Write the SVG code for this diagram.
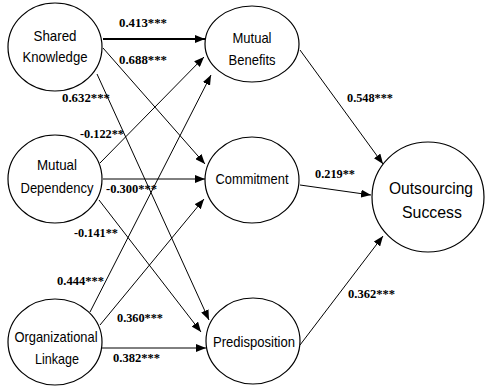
<svg xmlns="http://www.w3.org/2000/svg" width="485" height="387" viewBox="0 0 485 387">
<style>
.n{fill:#fff;stroke:#000;stroke-width:1.2}
.t{font-family:"Liberation Sans",Arial,sans-serif;font-size:15px;text-anchor:middle;fill:#000}
.big{font-size:17px}
.c{stroke:#000;stroke-width:1;fill:none;marker-end:url(#a)}
.l{font-family:"Liberation Serif","Times New Roman",serif;font-size:12.5px;font-weight:bold;fill:#000}
</style>
<defs>
<marker id="a" viewBox="0 0 10 8" refX="10" refY="4" markerWidth="10" markerHeight="8" markerUnits="userSpaceOnUse" orient="auto">
<path d="M0,0 L10,4 L0,8 Z" fill="#000"/>
</marker>
</defs>
<g id="connectors">
<line class="c" x1="103" y1="39" x2="205" y2="39" style="stroke-width:2"/>
<line class="c" x1="103" y1="48" x2="205" y2="164"/>
<line class="c" x1="97" y1="74" x2="209" y2="320"/>
<line class="c" x1="100" y1="163" x2="204" y2="57"/>
<line class="c" x1="103" y1="179" x2="205" y2="179"/>
<line class="c" x1="99" y1="200" x2="201" y2="332"/>
<line class="c" x1="90" y1="312" x2="211" y2="75"/>
<line class="c" x1="100" y1="325" x2="204" y2="199"/>
<line class="c" x1="102" y1="348" x2="206" y2="348"/>
<line class="c" x1="300" y1="50" x2="383" y2="164"/>
<line class="c" x1="300" y1="185" x2="371" y2="195"/>
<line class="c" x1="300" y1="345" x2="383" y2="236"/>
</g>
<g id="labels">
<text class="l" x="119" y="27" textLength="48" lengthAdjust="spacingAndGlyphs">0.413***</text>
<text class="l" x="119" y="64" textLength="48" lengthAdjust="spacingAndGlyphs">0.688***</text>
<text class="l" x="62" y="102" textLength="48" lengthAdjust="spacingAndGlyphs">0.632***</text>
<text class="l" x="80" y="138" textLength="44" lengthAdjust="spacingAndGlyphs">-0.122**</text>
<text class="l" x="106" y="193" textLength="51" lengthAdjust="spacingAndGlyphs">-0.300***</text>
<text class="l" x="74" y="237" textLength="44" lengthAdjust="spacingAndGlyphs">-0.141**</text>
<text class="l" x="57" y="285" textLength="47" lengthAdjust="spacingAndGlyphs">0.444***</text>
<text class="l" x="117" y="322" textLength="46" lengthAdjust="spacingAndGlyphs">0.360***</text>
<text class="l" x="113" y="362" textLength="47" lengthAdjust="spacingAndGlyphs">0.382***</text>
<text class="l" x="347" y="102" textLength="46" lengthAdjust="spacingAndGlyphs">0.548***</text>
<text class="l" x="315" y="178" textLength="40" lengthAdjust="spacingAndGlyphs">0.219**</text>
<text class="l" x="348" y="298" textLength="47" lengthAdjust="spacingAndGlyphs">0.362***</text>
</g>
<g id="shared-knowledge">
<ellipse class="n" cx="55" cy="47" rx="47" ry="44"/>
<text class="t" x="55" y="41" textLength="43" lengthAdjust="spacingAndGlyphs">Shared</text>
<text class="t" x="55" y="62" textLength="65" lengthAdjust="spacingAndGlyphs">Knowledge</text>
</g>
<g id="mutual-dependency">
<ellipse class="n" cx="55" cy="179" rx="47" ry="44"/>
<text class="t" x="57" y="170" textLength="40" lengthAdjust="spacingAndGlyphs">Mutual</text>
<text class="t" x="57" y="193" textLength="73" lengthAdjust="spacingAndGlyphs">Dependency</text>
</g>
<g id="organizational-linkage">
<ellipse class="n" cx="55" cy="342" rx="47" ry="43"/>
<text class="t" x="56" y="342" textLength="83" lengthAdjust="spacingAndGlyphs">Organizational</text>
<text class="t" x="57" y="364" textLength="44" lengthAdjust="spacingAndGlyphs">Linkage</text>
</g>
<g id="mutual-benefits">
<ellipse class="n" cx="252" cy="44" rx="47" ry="38"/>
<text class="t" x="252" y="43" textLength="39" lengthAdjust="spacingAndGlyphs">Mutual</text>
<text class="t" x="252" y="65" textLength="47" lengthAdjust="spacingAndGlyphs">Benefits</text>
</g>
<g id="commitment">
<ellipse class="n" cx="252" cy="180" rx="47" ry="43"/>
<text class="t" x="252" y="184" textLength="73" lengthAdjust="spacingAndGlyphs">Commitment</text>
</g>
<g id="predisposition">
<ellipse class="n" cx="253" cy="341" rx="47" ry="43"/>
<text class="t" x="254" y="347" textLength="82" lengthAdjust="spacingAndGlyphs">Predisposition</text>
</g>
<g id="outsourcing-success">
<ellipse class="n" cx="428" cy="197" rx="56" ry="55"/>
<text class="t big" x="431" y="194" textLength="84" lengthAdjust="spacingAndGlyphs">Outsourcing</text>
<text class="t big" x="432" y="218" textLength="60" lengthAdjust="spacingAndGlyphs">Success</text>
</g>
</svg>
